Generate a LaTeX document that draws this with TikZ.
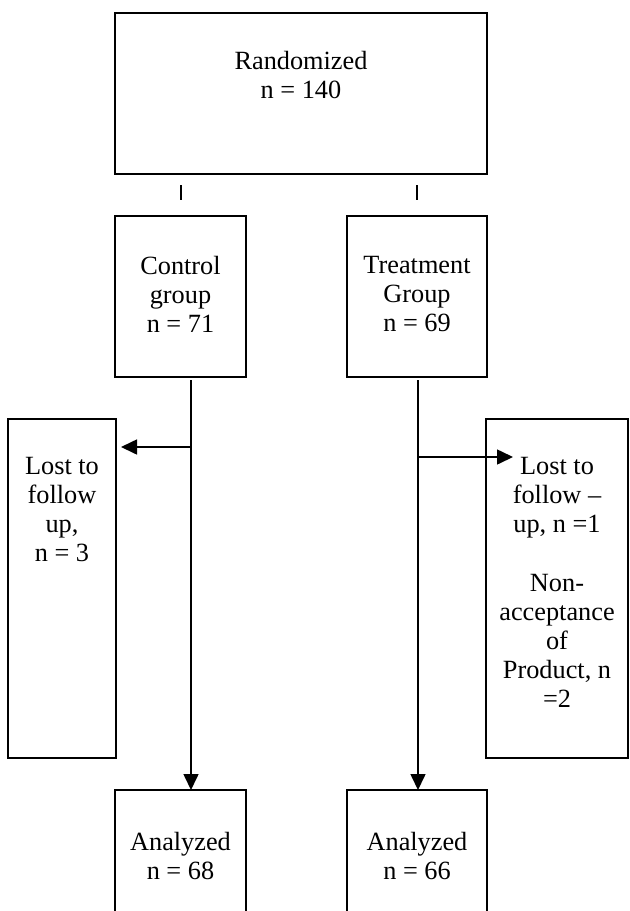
\documentclass[tikz,border=0pt]{standalone}
\usepackage{fontspec}
\setmainfont{Liberation Serif}
\usetikzlibrary{arrows.meta,calc}
\tikzset{
	flowbox/.style={draw, line width=1pt, inner sep=0pt, outer sep=0, anchor=north west,
		font=\fontsize{13.15pt}{14.6pt}\selectfont},
	flowarr/.style={line width=0.8pt, -{Triangle[length=8pt,width=7.5pt]}},
	flowtick/.style={line width=1pt}
}
\newcommand{\boxtxt}[4]{\parbox[c][#2][t]{#1}{\centering\vspace*{#3}#4}}

\begin{document}
\begin{tikzpicture}[x=0.5pt, y=-0.5pt]
	\useasboundingbox (0,0) rectangle (629,911);
	\node[flowbox] (rand) at (115,13) {\boxtxt{186pt}{80.5pt}{19pt}{Randomized\\ n = 140}};
	\node[flowbox] (ctrl) at (115,216) {\boxtxt{65.5pt}{80.5pt}{20pt}{Control\\ group\\ n = 71}};
	\node[flowbox] (treat) at (347,216) {\boxtxt{70pt}{80.5pt}{20pt}{Treatment\\ Group\\ n = 69}};
	\node[flowbox] (lostc) at (8,419) {\boxtxt{54pt}{169.5pt}{19pt}{Lost to\\ follow\\ up,\\ n = 3}};
	\node[flowbox] (lostt) at (486,419) {\boxtxt{71pt}{169.5pt}{19pt}{Lost to\\ follow --\\ up, n =1\\[14.6pt]
			Non-\\ acceptance\\ of\\ Product, n\\ =2}};
	\node[flowbox] (anac) at (115,790) {\boxtxt{65.5pt}{80pt}{21pt}{Analyzed\\ n = 68}};
	\node[flowbox] (anat) at (347,790) {\boxtxt{70pt}{80pt}{21pt}{Analyzed\\ n = 66}};
	
	% short marks under the top box
	\draw[flowtick] ($(rand.south -| ctrl.north)+(0,11)$) -- ++(0,15);
	\draw[flowtick] ($(rand.south -| treat.north)+(0,11)$) -- ++(0,15);
	
	\coordinate (cbranch) at (191,447);
	\coordinate (tbranch) at (418,457);
	\draw[flowarr, shorten <=1.5pt] (ctrl.south -| cbranch) -- (anac.north -| cbranch);
	\draw[flowarr, shorten >=2.5pt] (cbranch) -- (cbranch -| lostc.east);
	\draw[flowarr, shorten <=1.5pt] (treat.south -| tbranch) -- (anat.north -| tbranch);
	\draw[flowarr] (tbranch) -- ([xshift=13.5pt]tbranch -| lostt.west);
\end{tikzpicture}
\end{document}
